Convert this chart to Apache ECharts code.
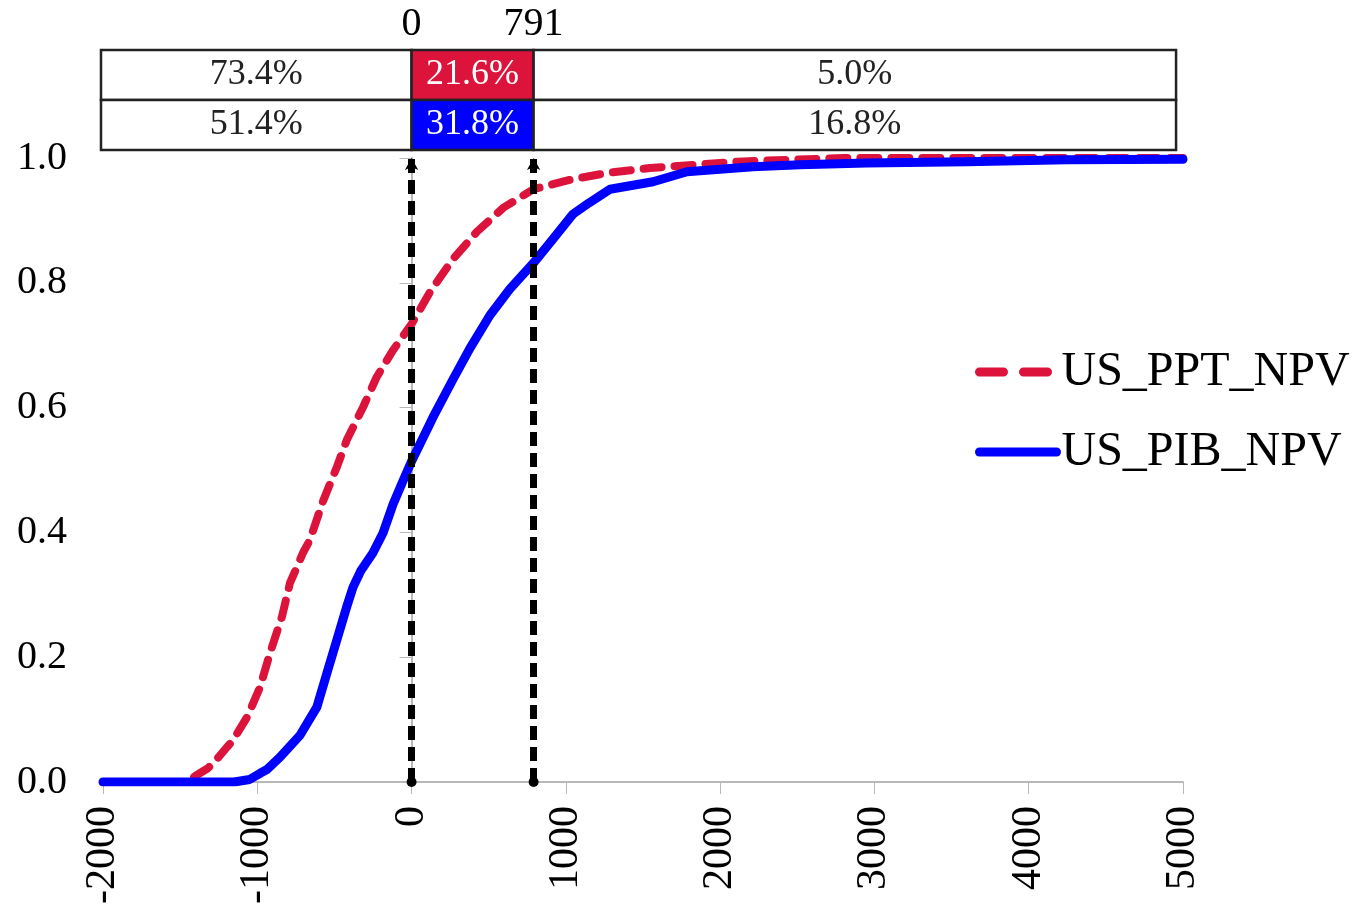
<!DOCTYPE html>
<html>
<head>
<meta charset="utf-8">
<title>US NPV cumulative distribution</title>
<script src="https://cdn.jsdelivr.net/npm/echarts@6/dist/echarts.min.js"></script>
<style>
  html, body { margin: 0; padding: 0; background: #fff; }
  #chart { width: 1355px; height: 914px; }
</style>
</head>
<body>
<div id="chart"></div>
<script>
// NPV axis ticks and probability ticks
var xTicks = [-2000, -1000, 0, 1000, 2000, 3000, 4000, 5000];
var yTicks = [0, 0.2, 0.4, 0.6, 0.8, 1.0];

// Break-even and threshold NPV values marked on the chart
var thresholds = [0, 791];

// Probability share in each NPV band (below 0, 0-791, above 791), percent
var pptShares = [73.4, 21.6, 5.0];
var pibShares = [51.4, 31.8, 16.8];

// Cumulative distribution of NPV: [npv, cumulative probability]
var pptNpv = [
  [-2000, 0], [-1450, 0], [-1400, 0.01], [-1320, 0.022], [-1250, 0.04],
  [-1196, 0.056], [-1157, 0.067], [-1066, 0.104], [-982, 0.152], [-917, 0.207],
  [-840, 0.265], [-788, 0.319], [-704, 0.367], [-659, 0.388], [-574, 0.45],
  [-484, 0.505], [-420, 0.548], [-314, 0.601], [-226, 0.649], [-120, 0.692],
  [0, 0.734], [119, 0.785], [268, 0.838], [424, 0.882], [593, 0.92],
  [791, 0.95], [1027, 0.965], [1266, 0.976], [1545, 0.984], [1824, 0.989],
  [2109, 0.994], [2433, 0.997], [2800, 1.0], [5000, 1.0]
];
var pibNpv = [
  [-2000, 0], [-1150, 0], [-1050, 0.004], [-982, 0.014], [-937, 0.02],
  [-852, 0.04], [-723, 0.075], [-614, 0.12], [-548, 0.175], [-484, 0.228],
  [-420, 0.281], [-380, 0.312], [-330, 0.338], [-251, 0.367], [-185, 0.399],
  [-120, 0.445], [-60, 0.48], [0, 0.514], [140, 0.585], [268, 0.645],
  [378, 0.695], [508, 0.748], [637, 0.79], [791, 0.832], [916, 0.87],
  [1046, 0.91], [1150, 0.928], [1286, 0.95], [1565, 0.962], [1785, 0.978],
  [2213, 0.986], [2518, 0.989], [2951, 0.992], [3600, 0.994], [4248, 0.997],
  [5000, 0.998]
];

var seriesNames = ['US_PPT_NPV', 'US_PIB_NPV'];
var seriesColors = ['#DC143C', '#0000FF'];

var FONT = '"Liberation Serif", "Times New Roman", serif';

// Band table: one cell per band per row, outer edges extend over the axis span
var tableLeft = -2013, tableRight = 4955;
var bandEdges = [tableLeft].concat(thresholds, [tableRight]);
var tableCells = [];
[pptShares, pibShares].forEach(function (shares, r) {
  shares.forEach(function (v, i) {
    // row 1 is the top row (PPT), row 0 the bottom row (PIB)
    tableCells.push([bandEdges[i], bandEdges[i + 1], 1 - r, v, i === 1 ? r : -1]);
  });
});

var chart = echarts.init(document.getElementById('chart'), null, { renderer: 'canvas' });

var option = {
  backgroundColor: '#fff',
  animation: false,
  grid: [
    { left: 103, right: 172, top: 158, bottom: 132, containLabel: false },
    { left: 103, right: 172, top: 50, height: 100, containLabel: false }
  ],
  legend: {
    left: 975,
    top: 348,
    padding: 0,
    orient: 'vertical',
    itemWidth: 77,
    itemHeight: 10,
    itemGap: 32,
    data: [
      { name: seriesNames[0], itemStyle: { opacity: 0 },
        lineStyle: { width: 9, type: [24, 20], cap: 'round', color: seriesColors[0] } },
      { name: seriesNames[1], itemStyle: { opacity: 0 },
        lineStyle: { width: 9, type: 'solid', cap: 'round', color: seriesColors[1] } }
    ],
    textStyle: { fontFamily: FONT, fontSize: 48, color: '#000' }
  },
  xAxis: [
    {
      type: 'value',
      gridIndex: 0,
      min: -2000,
      max: 5000,
      interval: 1000,
      axisLine: { onZero: false, lineStyle: { color: '#b8b8b8', width: 2 } },
      axisTick: { show: true, length: 12, lineStyle: { color: '#b8b8b8', width: 1 } },
      axisLabel: {
        rotate: 90,
        margin: 24,
        fontFamily: FONT,
        fontSize: 42,
        color: '#000',
        customValues: xTicks,
        formatter: function (v) { return String(v); }
      },
      splitLine: { show: false }
    },
    {
      type: 'value',
      gridIndex: 1,
      min: -2000,
      max: 5000,
      position: 'top',
      axisLine: { show: false },
      axisTick: { show: false },
      splitLine: { show: false },
      axisLabel: {
        show: true,
        margin: 6,
        fontFamily: FONT,
        fontSize: 40,
        color: '#000',
        customValues: thresholds,
        formatter: function (v) { return String(v); }
      }
    }
  ],
  yAxis: [
    {
      type: 'value',
      gridIndex: 0,
      min: 0,
      max: 1,
      interval: 0.2,
      axisLine: { show: true, lineStyle: { color: '#b8b8b8', width: 2 } },
      axisTick: { show: true, length: 12, lineStyle: { color: '#b8b8b8', width: 1 } },
      axisLabel: {
        margin: 36,
        fontFamily: FONT,
        fontSize: 40,
        color: '#000',
        customValues: yTicks,
        formatter: function (v) { return v.toFixed(1); }
      },
      splitLine: { show: false }
    },
    {
      type: 'value',
      gridIndex: 1,
      min: 0,
      max: 2,
      show: false
    }
  ],
  series: [
    {
      name: seriesNames[0],
      type: 'line',
      xAxisIndex: 0,
      yAxisIndex: 0,
      data: pptNpv,
      symbol: 'none',
      color: seriesColors[0],
      lineStyle: { color: seriesColors[0], width: 8, type: [18, 13], cap: 'round', join: 'round' },
      z: 2
    },
    {
      name: seriesNames[1],
      type: 'line',
      xAxisIndex: 0,
      yAxisIndex: 0,
      data: pibNpv,
      symbol: 'none',
      color: seriesColors[1],
      lineStyle: { color: seriesColors[1], width: 9, type: 'solid', cap: 'round', join: 'round' },
      z: 3,
      markLine: {
        silent: true,
        symbol: ['circle', 'arrow'],
        symbolSize: [10, 12],
        label: { show: false },
        lineStyle: { color: '#000', width: 7, type: [14, 7], opacity: 1 },
        emphasis: { disabled: true },
        data: thresholds.map(function (t) { return { xAxis: t }; }),
        z: 5
      }
    },
    {
      type: 'custom',
      xAxisIndex: 1,
      yAxisIndex: 1,
      silent: true,
      data: tableCells,
      renderItem: function (params, api) {
        var x0 = api.value(0), x1 = api.value(1), row = api.value(2);
        var share = api.value(3), fillIdx = api.value(4);
        var p0 = api.coord([x0, row + 1]);
        var p1 = api.coord([x1, row]);
        var filled = fillIdx >= 0;
        return {
          type: 'rect',
          shape: { x: p0[0], y: p0[1], width: p1[0] - p0[0], height: p1[1] - p0[1] },
          style: {
            fill: filled ? seriesColors[fillIdx] : '#fff',
            stroke: '#222',
            lineWidth: 2.5
          },
          textContent: {
            style: {
              text: share.toFixed(1) + '%',
              fill: filled ? '#fff' : '#222',
              font: '36px ' + FONT
            }
          },
          textConfig: { position: 'inside' }
        };
      }
    }
  ]
};

chart.setOption(option);
</script>
</body>
</html>
